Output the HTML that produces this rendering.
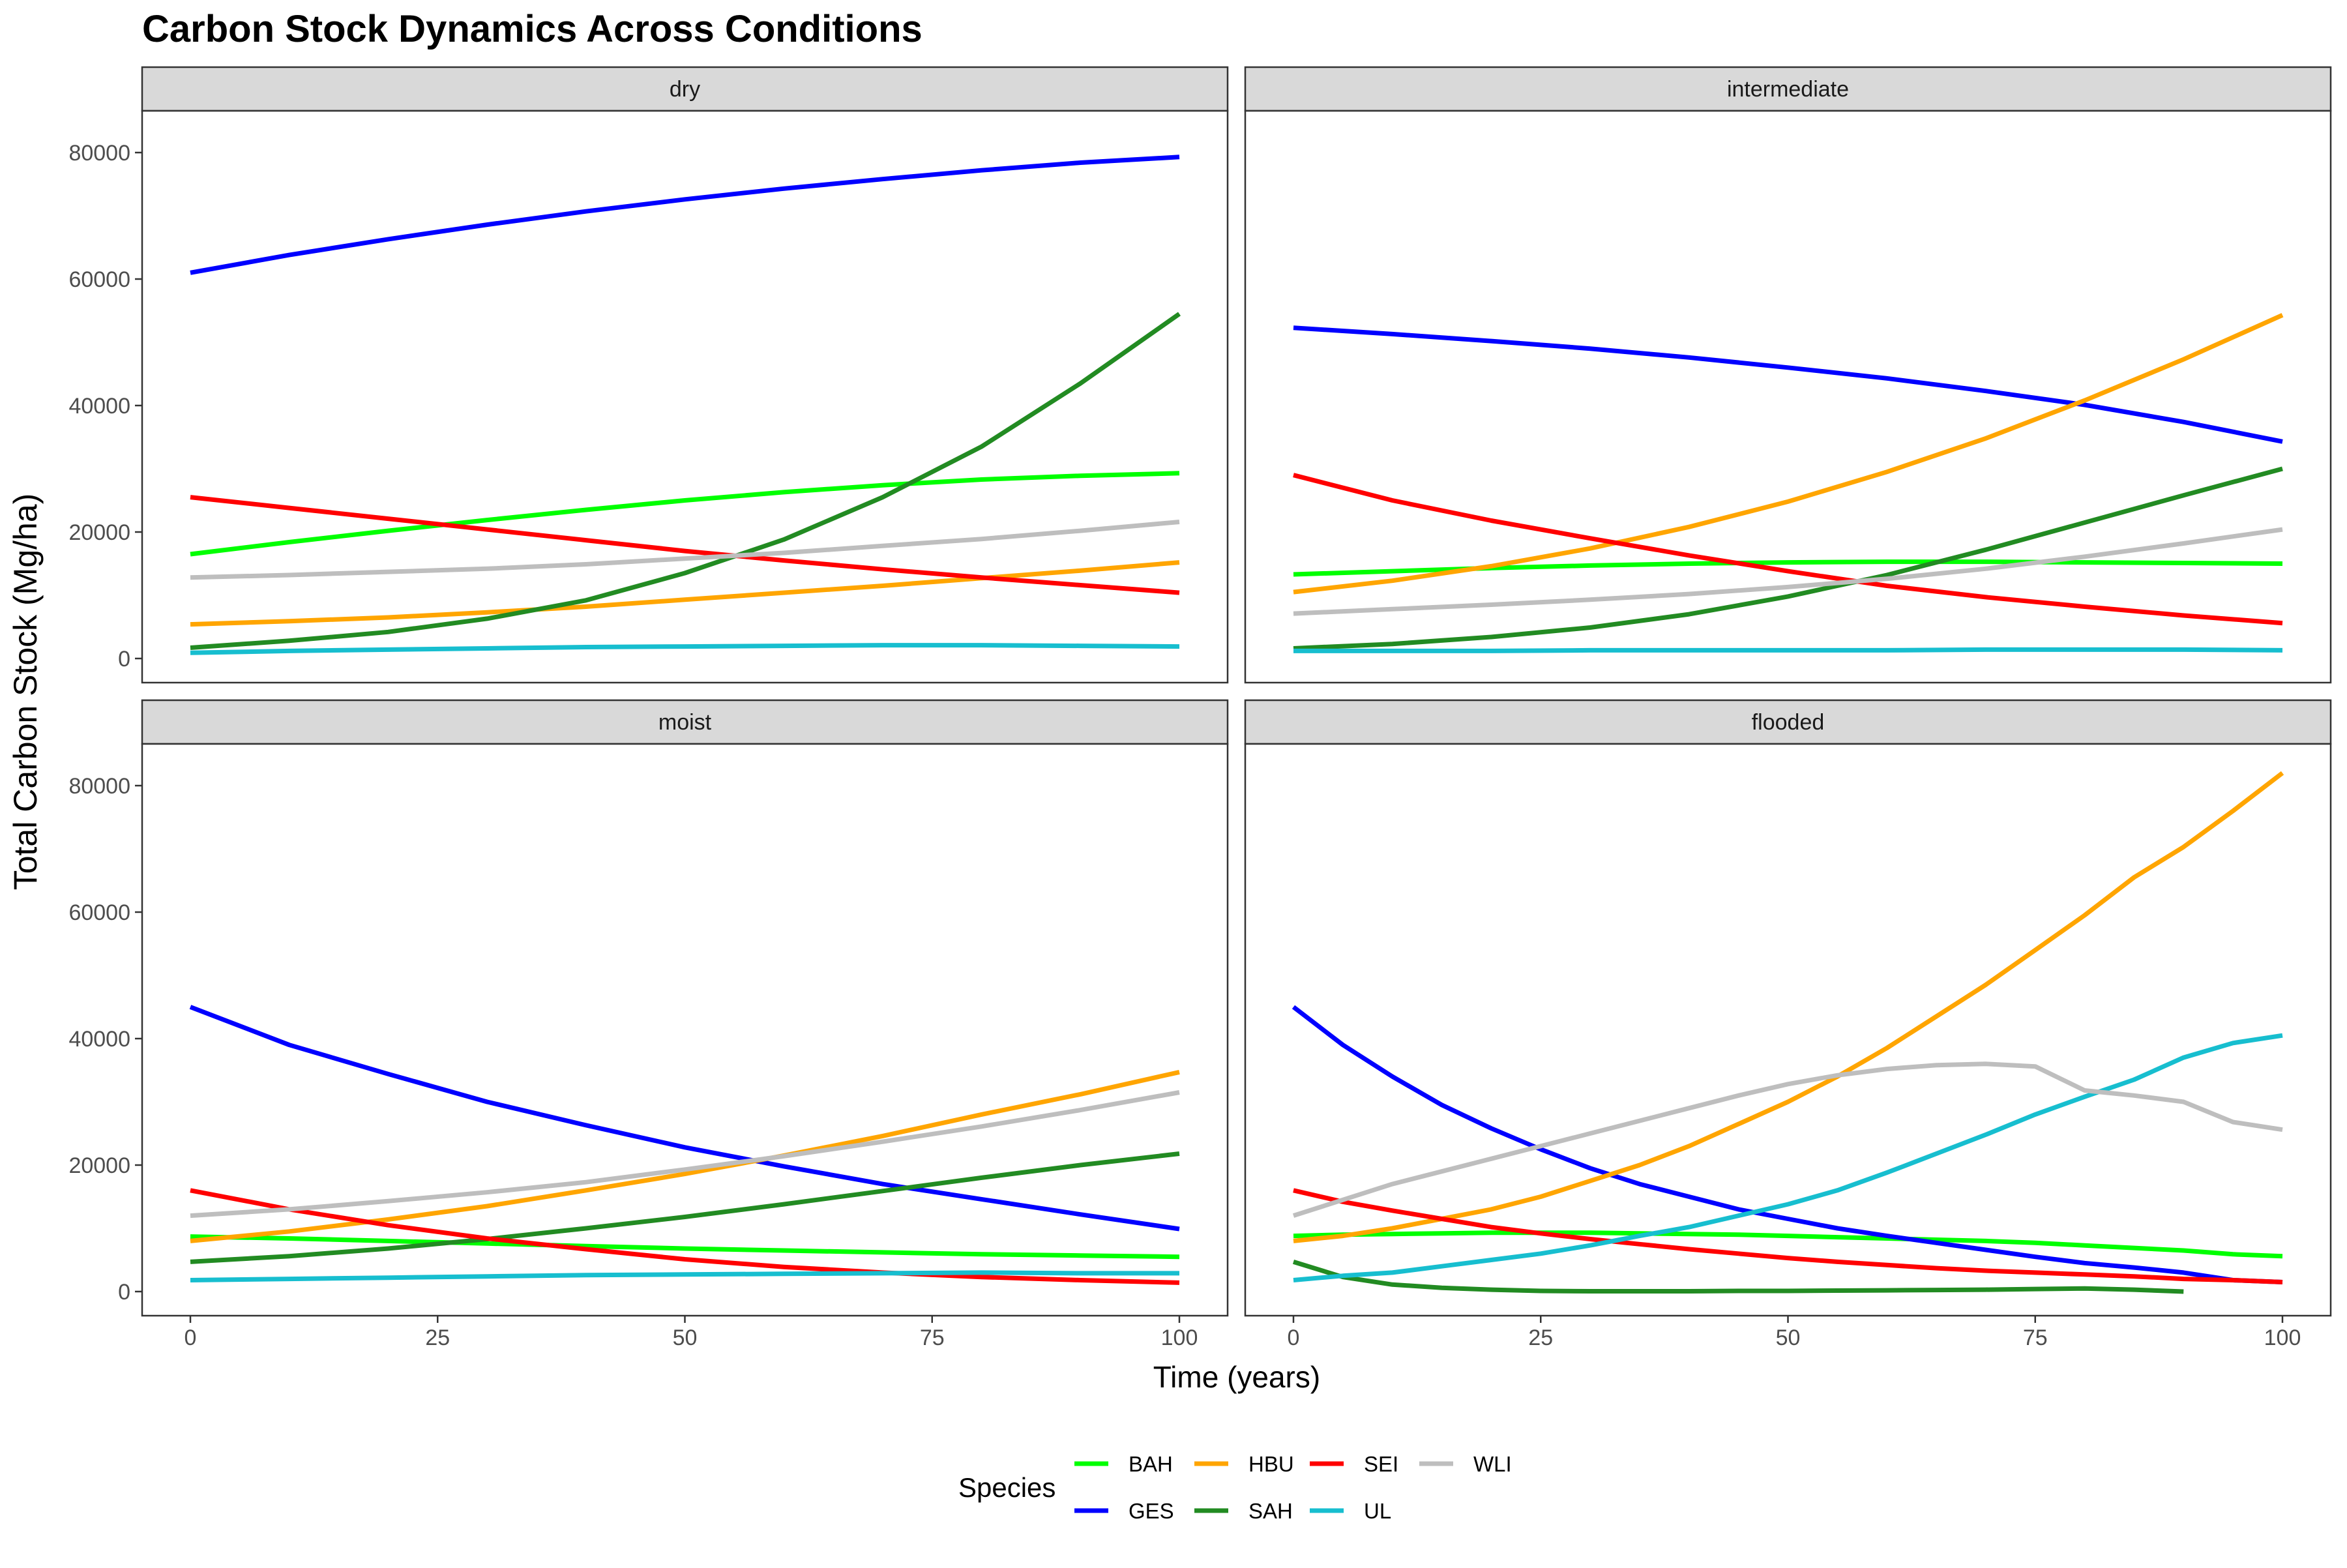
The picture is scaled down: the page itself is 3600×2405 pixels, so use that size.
<!DOCTYPE html>
<html><head><meta charset="utf-8"><style>
html,body{margin:0;padding:0;background:#fff}
svg text{font-family:"Liberation Sans",sans-serif}
</style></head><body>
<svg id="chart" width="3600" height="2400" xmlns="http://www.w3.org/2000/svg">
<rect width="3600" height="2400" fill="#fff"/>
<text x="218" y="64" font-size="58" font-weight="bold" fill="#000">Carbon Stock Dynamics Across Conditions</text>
<text transform="translate(56,1061) rotate(-90)" text-anchor="middle" font-size="50" fill="#000">Total Carbon Stock (Mg/ha)</text>
<text x="1897" y="2128" text-anchor="middle" font-size="46" fill="#000">Time (years)</text>
<g id="panels"></g>
<g id="legend"></g>
</svg>
<script>
const species = ["BAH","GES","HBU","SAH","SEI","UL","WLI"];
const colors = ["#00ff00","#0000ff","#ffa500","#228b22","#ff0000","#17becf","#bebebe"];
const conditions = ["dry","intermediate","moist","flooded"];
const yTicks = [0,20000,40000,60000,80000];
const xTicks = [0,25,50,75,100];
const times10 = [0,10,20,30,40,50,60,70,80,90,100];
const times5 = [0,5,10,15,20,25,30,35,40,45,50,55,60,65,70,75,80,85,90,95,100];

const dryBAH = [16500,18400,20200,21900,23500,25000,26300,27400,28300,28900,29300];
const dryGES = [61000,63800,66300,68600,70700,72600,74300,75800,77200,78400,79300];
const dryHBU = [5400,5900,6500,7300,8200,9300,10400,11500,12700,13900,15200];
const drySAH = [1700,2800,4200,6300,9200,13500,18800,25500,33500,43500,54500];
const drySEI = [25500,23800,22100,20400,18700,17000,15500,14100,12800,11600,10400];
const dryUL = [900,1200,1400,1600,1800,1900,2000,2100,2100,2000,1900];
const dryWLI = [12800,13200,13700,14200,14900,15800,16700,17800,18900,20200,21600];

const intBAH = [13300,13800,14300,14700,15000,15200,15300,15300,15200,15100,15000];
const intGES = [52300,51300,50200,49000,47600,46000,44300,42300,40100,37400,34300];
const intHBU = [10500,12300,14600,17400,20800,24800,29500,34800,40800,47300,54300];
const intSAH = [1600,2300,3400,4900,7000,9800,13200,17200,21500,25800,30000];
const intSEI = [29000,25000,21800,19000,16300,13800,11500,9700,8200,6800,5600];
const intUL = [1200,1200,1200,1300,1300,1300,1300,1400,1400,1400,1300];
const intWLI = [7100,7800,8500,9300,10200,11300,12600,14200,16100,18200,20400];

const moiBAH = [8700,8400,8000,7600,7200,6800,6500,6200,5900,5700,5500];
const moiGES = [45000,39000,34400,30000,26300,22800,19800,17000,14600,12200,9900];
const moiHBU = [8000,9500,11400,13500,16000,18600,21500,24600,28000,31200,34700];
const moiSAH = [4700,5600,6800,8300,10000,11800,13800,15900,18000,20000,21800];
const moiSEI = [16000,13000,10500,8400,6700,5100,3900,3000,2300,1800,1400];
const moiUL = [1800,2000,2200,2400,2600,2700,2800,2900,3000,2900,2900];
const moiWLI = [12000,13000,14300,15700,17300,19300,21400,23700,26100,28700,31500];

const floBAH = [8800,9000,9100,9200,9300,9300,9300,9200,9100,9000,8800,8600,8400,8200,8000,7700,7300,6900,6500,5900,5600];
const floGES = [45000,39000,34000,29500,25800,22500,19500,17000,15000,13000,11500,10000,8800,7700,6600,5500,4500,3800,3000,1800,1500];
const floHBU = [8000,8800,10000,11500,13000,15000,17500,20000,23000,26500,30000,34000,38500,43500,48500,54000,59500,65500,70300,76000,82000];
const floSAH = [4700,2300,1100,600,300,100,50,50,50,100,100,150,200,250,300,400,500,300,0,null,null];
const floSEI = [16000,14200,12800,11500,10200,9200,8300,7500,6700,6000,5300,4700,4200,3700,3300,3000,2700,2400,2000,1800,1500];
const floUL = [1800,2500,3000,4000,5000,6000,7300,8800,10200,12000,13800,16000,18800,21800,24800,28000,30800,33500,37000,39300,40500];
const floWLI = [12000,14500,17000,19000,21000,23000,25000,27000,29000,31000,32800,34200,35200,35800,36000,35600,31800,31000,30000,26800,25600];

const panelSeries = [
  [dryBAH,dryGES,dryHBU,drySAH,drySEI,dryUL,dryWLI],
  [intBAH,intGES,intHBU,intSAH,intSEI,intUL,intWLI],
  [moiBAH,moiGES,moiHBU,moiSAH,moiSEI,moiUL,moiWLI],
  [floBAH,floGES,floHBU,floSAH,floSEI,floUL,floWLI]
];
const panelTimes = [times10,times10,times10,times5];

const NS="http://www.w3.org/2000/svg";
function mk(tag,attrs,parent){const e=document.createElementNS(NS,tag);for(const k in attrs)e.setAttribute(k,attrs[k]);parent.appendChild(e);return e;}
const panelsG=document.getElementById('panels');
const layout=[{x0:218,x1:1883,y0:170,y1:1047},{x0:1910,x1:3575,y0:170,y1:1047},{x0:218,x1:1883,y0:1141,y1:2018},{x0:1910,x1:3575,y0:1141,y1:2018}];
conditions.forEach((cond,pi)=>{
  const L=layout[pi];
  const xs=t=>L.x0+74+(t/100)*1517;
  const ys=v=>L.y1-37-(v/80000)*776;
  const g=mk('g',{},panelsG);
  
  
  const strip=mk('rect',{x:L.x0,y:L.y0-67,width:L.x1-L.x0,height:67,fill:'#d9d9d9',stroke:'#333','stroke-width':2.5},g);
  
  
  const st=mk('text',{x:(L.x0+L.x1)/2,y:L.y0-22,'text-anchor':'middle','font-size':34,fill:'#1a1a1a'},g);
  st.textContent=cond;
  
  
  mk('rect',{x:L.x0,y:L.y0,width:L.x1-L.x0,height:L.y1-L.y0,fill:'#fff'},g);
  const times=panelTimes[pi];
  panelSeries[pi].forEach((vals,si)=>{
    let d='';let pen=false;
    vals.forEach((v,i)=>{ if(v===null){pen=false;return;} d+=(pen?'L':'M')+xs(times[i]).toFixed(1)+','+ys(v).toFixed(1); pen=true;});
    const p=mk('path',{d:d,fill:'none',stroke:colors[si],'stroke-width':7,'stroke-linejoin':'round'},g);
    
    
  });
  mk('rect',{x:L.x0,y:L.y0,width:L.x1-L.x0,height:L.y1-L.y0,fill:'none',stroke:'#333','stroke-width':2.5},g);
  if(pi%2===0){
    yTicks.forEach(v=>{
      mk('line',{x1:L.x0-11,x2:L.x0,y1:ys(v),y2:ys(v),stroke:'#333','stroke-width':2.5},g);
      const t=mk('text',{x:L.x0-18,y:ys(v)+12,'text-anchor':'end','font-size':34,fill:'#4d4d4d'},g);
      t.textContent=v;
      
      
    });
  }
  if(pi>=2){
    xTicks.forEach(v=>{
      mk('line',{x1:xs(v),x2:xs(v),y1:L.y1,y2:L.y1+11,stroke:'#333','stroke-width':2.5},g);
      const t=mk('text',{x:xs(v),y:L.y1+45,'text-anchor':'middle','font-size':34,fill:'#4d4d4d'},g);
      t.textContent=v;
      
      
    });
  }
});
const lg=document.getElementById('legend');
const lt=mk('text',{x:1470,y:2296,'font-size':42,fill:'#000'},lg);
lt.textContent='Species';


const colX=[1648,1832,2009,2177];
species.forEach((s,i)=>{
  const col=Math.floor(i/2),row=i%2;
  const x=colX[col],y=row?2317:2245;
  const eg=mk('g',{},lg);
  
  
  mk('line',{x1:x,x2:x+52,y1:y,y2:y,stroke:colors[i],'stroke-width':7},eg);
  const t=mk('text',{x:x+83,y:y+12,'font-size':33,fill:'#000'},eg);
  t.textContent=s;
});
</script>
</body></html>
